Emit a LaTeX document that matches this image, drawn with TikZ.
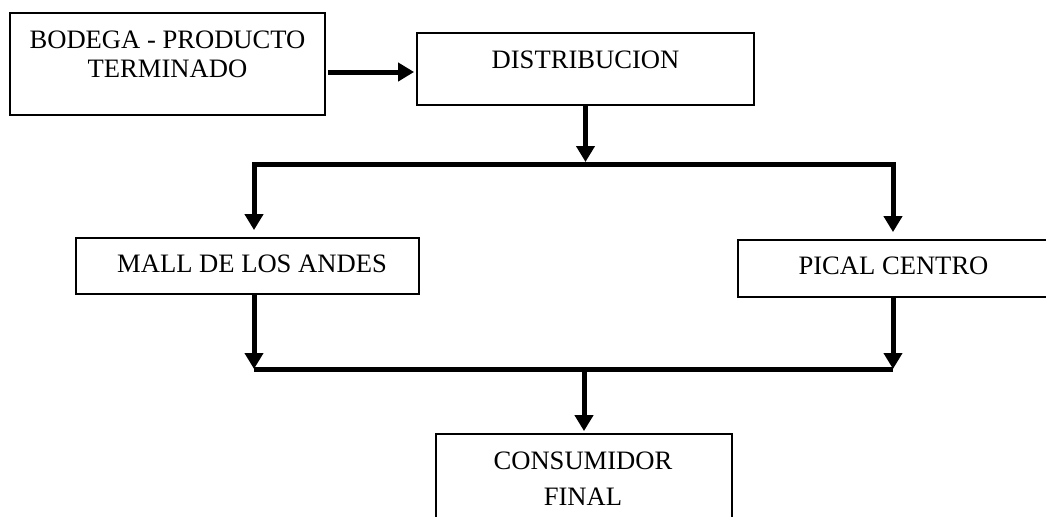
\documentclass[tikz,border=0pt]{standalone}
\usepackage{fontspec}
\setmainfont{Liberation Serif}
\usetikzlibrary{arrows.meta,positioning}

\tikzset{
	box/.style={draw,line width=0.9pt,inner sep=0pt},
	lbl/.style={align=center,inner sep=0pt,font=\fontsize{13.3}{16}\selectfont},
	arr/.style={line width=2.5pt,-{Triangle[length=8pt,width=9pt]}},
	split/.style={line width=2.5pt,{Triangle[length=8pt,width=9pt]}-{Triangle[length=8pt,width=9pt]}},
	bus/.style={line width=2.5pt}
}

\begin{document}
\begin{tikzpicture}[x=0.5pt,y=-0.5pt]
	\path[use as bounding box] (0,0) rectangle (1046,516);
	\clip (0,0) rectangle (1046,516);

	% cajas
	\node[box,minimum width=157.5pt,minimum height=51pt] (bod) at (167.5,64) {};
	\node[box,minimum width=168.5pt,minimum height=36pt] (dist) at (585.5,69) {};
	\node[box,minimum width=171.5pt,minimum height=28pt] (mall) at (247.5,266) {};
	\node[box,minimum width=156pt,minimum height=28.5pt] (pical) at (894,268.5) {};
	\node[box,minimum width=148pt,minimum height=48pt] (cons) at (584,482) {};

	% textos
	\node[lbl] (bodt) at (167.5,54.5) {BODEGA - PRODUCTO\\[-1.5pt]TERMINADO};
	\node[lbl] (distt) at (585.5,59.5) {DISTRIBUCION};
	\node[lbl] (mallt) at (252,264) {MALL DE LOS ANDES};
	\node[lbl] (picalt) at (893.5,266) {PICAL CENTRO};
	\node[lbl] (const) at (583,479) {CONSUMIDOR\\[2pt]FINAL};

	% puntos de union
	\coordinate (sL) at (254,164);
	\coordinate (sR) at (893,164);
	\coordinate (jL) at (254,369);
	\coordinate (jR) at (893,369);

	% flechas
	\draw[arr,shorten <=1pt,shorten >=1pt] ([yshift=-1.5pt]dist.west -| bod.east) -- ([yshift=-1.5pt]dist.west);
	\draw[arr,shorten >=1pt] (dist.south) -- (dist.south |- sL);
	\draw[split,shorten <=3.5pt,shorten >=3.5pt] (sL |- mall.north) -- (sL) -- (sR) -- (sR |- pical.north);
	\draw[arr] (jL |- mall.south) -- (jL);
	\draw[arr] (jR |- pical.south) -- (jR);
	\draw[bus] (jL) -- (jR);
	\draw[arr,shorten >=1pt] (jL -| cons.north) -- (cons.north);
\end{tikzpicture}
\end{document}
